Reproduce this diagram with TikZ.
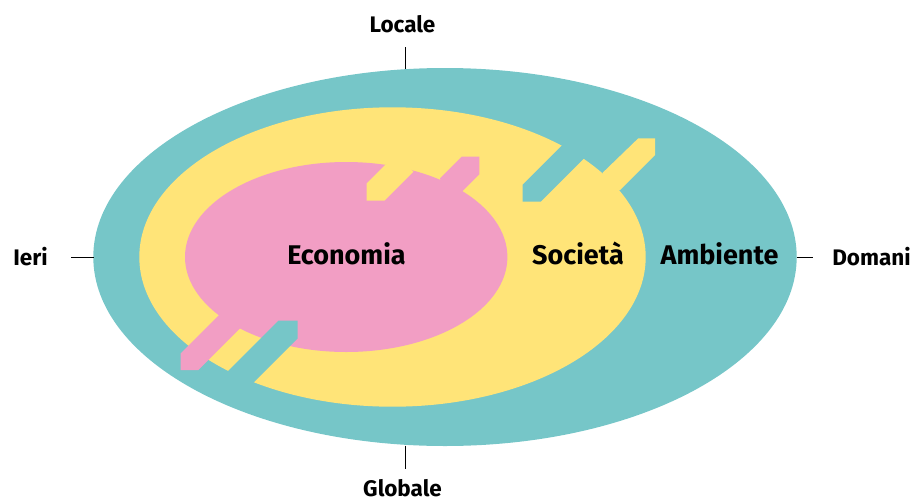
\documentclass[tikz,border=0pt]{standalone}
\usepackage{fontspec}
\setmainfont{Fira Sans}
\definecolor{tealc}{HTML}{76C6C8}
\definecolor{yelc}{HTML}{FFE478}
\definecolor{pinkc}{HTML}{F29EC4}
\begin{document}
\begin{tikzpicture}[x=1pt,y=-1pt,
  inner/.style={font=\bfseries\fontsize{27}{30}\selectfont, text=black, inner sep=0pt, anchor=base},
  side/.style={font=\bfseries\fontsize{22.5}{26}\selectfont, text=black, inner sep=0pt, anchor=base},
  tick/.style={draw=black, line width=1pt}]
\useasboundingbox (0,0) rectangle (922,499);
% ellipses
\fill[tealc] (445,257) ellipse [x radius=351.7, y radius=189];
\fill[yelc] (392.5,257) ellipse [x radius=253.2, y radius=149.7];
\fill[pinkc] (346.2,257) ellipse [x radius=161.2, y radius=95];
% top: yellow tooth into pink, pink tooth into yellow
\fill[yelc] (385,165) -- (366.7,183.3) -- (366.7,200.5) -- (384.5,200.5) -- (413.3,171.7) -- (400,158) -- cycle;
\fill[pinkc] (440,178.3) -- (461.7,156.7) -- (479.3,156.7) -- (479.3,174.3) -- (461.7,191.9) -- (445,195) -- cycle;
% top right: teal tooth into yellow, yellow tooth into teal
\fill[tealc] (561.7,145.7) -- (522.7,184.7) -- (522.7,201.7) -- (540.7,201.7) -- (584,158.3) -- (575,138) -- cycle;
\fill[yelc] (602.7,172.7) -- (638.3,138.3) -- (655,138.3) -- (655,155) -- (620,190) -- (600,192) -- cycle;
% bottom left: pink stripe out into teal, teal stripe in to pink
\fill[pinkc] (180.7,353.3) -- (180.7,370) -- (198.3,370) -- (245,323.3) -- (245,300) -- (225,300) -- (220,314) -- cycle;
\fill[tealc] (278.3,320.7) -- (297.7,320.7) -- (297.7,338.3) -- (250,386) -- (226,373) -- cycle;
% labels
\node[inner] (eco) at (346.5,264.5) {Economia};
\node[inner] (soc) at (578,264.5) {Società};
\node[inner] (amb) at (719.5,264.5) {Ambiente};
\node[side] (loc) at (402.5,32.5) {Locale};
\node[side, text depth=0pt] (glo) at (402.5,496) {Globale};
\node[side] (ieri) at (30.5,265) {Ieri};
\node[side] (dom) at (871.5,265) {Domani};
% ticks
\coordinate (tA) at (405,47); \coordinate (tB) at (405,68.5);
\coordinate (bA) at (405,445.5); \coordinate (bB) at (405,469);
\coordinate (lA) at (71,257.5); \coordinate (lB) at (93.5,257.5);
\coordinate (rA) at (796.5,257.5); \coordinate (rB) at (813,257.5);
\draw[tick] (tA) -- (tB);
\draw[tick] (bA) -- (bB);
\draw[tick] (lA) -- (lB);
\draw[tick] (rA) -- (rB);
\end{tikzpicture}
\end{document}
